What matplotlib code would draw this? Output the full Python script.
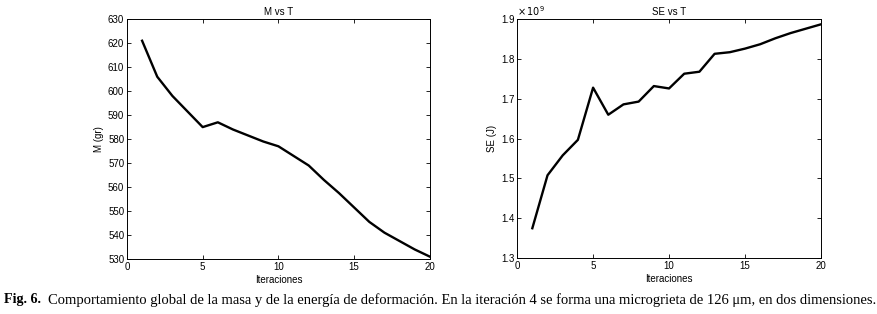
import matplotlib.pyplot as plt

iteraciones = list(range(1, 21))
masa = [621, 606, 598, 591.5, 585, 587, 584, 581.5, 579, 577,
        573, 569, 563, 557.5, 551.5, 545.5, 541, 537.5, 534, 531]
energia = [1.375, 1.508, 1.558, 1.597, 1.728, 1.660, 1.686, 1.693, 1.732, 1.726,
           1.763, 1.768, 1.813, 1.817, 1.826, 1.837, 1.852, 1.865, 1.876, 1.887]

m_ticks = list(range(530, 631, 10))
se_ticks = [1.3, 1.4, 1.5, 1.6, 1.7, 1.8, 1.9]
x_ticks = [0, 5, 10, 15, 20]

plt.rcParams['font.family'] = ['Liberation Sans', 'DejaVu Sans']
plt.rcParams['font.size'] = 7

fig = plt.figure(figsize=(8.78, 3.14), dpi=100)


def style_axes(ax):
    ax.set_xlim(0, 20)
    ax.set_xticks(x_ticks)
    ax.tick_params(direction='in', length=3, width=0.6, top=True, right=True,
                   labeltop=False, labelright=False, pad=2)
    for s in ax.spines.values():
        s.set_linewidth(0.7)
    ax.set_xlabel('Iteraciones', labelpad=2)


ax1 = fig.add_axes([0.1446, 0.175, 0.345, 0.764])
ax1.plot(iteraciones, masa, color='black', linewidth=1.7)
ax1.set_ylim(530, 630)
ax1.set_yticks(m_ticks)
ax1.set_ylabel('M (gr)', labelpad=3)
ax1.set_title('M vs T', fontsize=7, pad=3)
style_axes(ax1)

ax2 = fig.add_axes([0.589, 0.178, 0.346, 0.761])
ax2.plot(iteraciones, energia, color='black', linewidth=1.7)
ax2.set_ylim(1.3, 1.9)
ax2.set_yticks(se_ticks)
ax2.set_yticklabels([f'{t:.1f}' for t in se_ticks])
ax2.set_ylabel('SE (J)', labelpad=3)
ax2.set_title('SE vs T', fontsize=7, pad=3)
ax2.text(0.0, 1.005, r'$\times\,10^{9}$', transform=ax2.transAxes,
         fontsize=7, ha='left', va='bottom')
style_axes(ax2)

fig.text(0.004, 0.045, 'Fig. 6.', fontsize=10.2, fontweight='bold',
         family=['Liberation Serif'], ha='left', va='center')
fig.text(0.055, 0.045,
         'Comportamiento global de la masa y de la energía de deformación. '
         'En la iteración 4 se forma una microgrieta de 126 μm, en dos dimensiones.',
         fontsize=10.5, family=['Liberation Serif'], ha='left', va='center')

fig.savefig('out.png', dpi=100)
